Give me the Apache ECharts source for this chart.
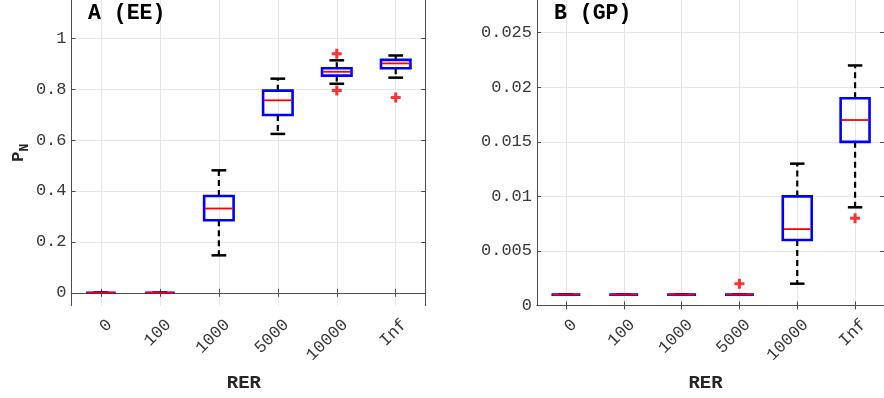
<!DOCTYPE html>
<html>
<head>
<meta charset="utf-8">
<script src="https://cdn.jsdelivr.net/npm/echarts@6/dist/echarts.min.js"></script>
<style>
  html, body { margin: 0; padding: 0; background: #fff; }
  #chart { width: 884px; height: 398px; }
</style>
</head>
<body>
<div id="chart"></div>
<script>
// RER settings shared by both panels
const categories = ['0', '100', '1000', '5000', '10000', 'Inf'];

// Panel A (EE): box statistics per RER
const eeLower  = [0, 0, 0.147, 0.624, 0.821, 0.845];
const eeQ1     = [0, 0, 0.285, 0.698, 0.853, 0.882];
const eeMedian = [0, 0, 0.331, 0.756, 0.868, 0.901];
const eeQ3     = [0, 0, 0.380, 0.794, 0.882, 0.915];
const eeUpper  = [0, 0, 0.481, 0.841, 0.913, 0.932];
const eeOutliers = [['10000', 0.939], ['10000', 0.795], ['Inf', 0.767]];
const eeTicks = [0, 0.2, 0.4, 0.6, 0.8, 1];

// Panel B (GP): box statistics per RER
const gpLower  = [0.001, 0.001, 0.001, 0.001, 0.002, 0.009];
const gpQ1     = [0.001, 0.001, 0.001, 0.001, 0.006, 0.015];
const gpMedian = [0.001, 0.001, 0.001, 0.001, 0.007, 0.017];
const gpQ3     = [0.001, 0.001, 0.001, 0.001, 0.010, 0.019];
const gpUpper  = [0.001, 0.001, 0.001, 0.001, 0.013, 0.022];
const gpOutliers = [['5000', 0.002], ['Inf', 0.008]];
const gpTicks = [0, 0.005, 0.01, 0.015, 0.02, 0.025];

const MONO = 'Liberation Mono, Courier New, monospace';
const AXIS_COLOR = '#4d4d4d';
const GRID_COLOR = '#e6e6e6';
const LABEL_COLOR = '#383838';
const PLUS = 'path://M3.5,0h3v3.5h3.5v3h-3.5v3.5h-3v-3.5h-3.5v-3h3.5z';

function boxRows(lo, q1, md, q3, hi) {
  return categories.map((c, i) => [i, lo[i], q1[i], md[i], q3[i], hi[i]]);
}

// whiskers, caps, box and median for one category
function renderBox(params, api) {
  const x = api.value(0);
  const bw = api.size([1, 0])[0] * 0.5;
  const lo = api.coord([x, api.value(1)]);
  const q1 = api.coord([x, api.value(2)]);
  const md = api.coord([x, api.value(3)]);
  const q3 = api.coord([x, api.value(4)]);
  const hi = api.coord([x, api.value(5)]);
  const cx = md[0];
  const dash = { stroke: '#000', lineWidth: 2.2, lineDash: [6, 4] };
  const cap = { stroke: '#000', lineWidth: 2.5 };
  return {
    type: 'group',
    children: [
      { type: 'line', shape: { x1: cx, y1: q3[1], x2: cx, y2: hi[1] }, style: dash },
      { type: 'line', shape: { x1: cx, y1: q1[1], x2: cx, y2: lo[1] }, style: dash },
      { type: 'line', shape: { x1: cx - bw / 4, y1: hi[1], x2: cx + bw / 4, y2: hi[1] }, style: cap },
      { type: 'line', shape: { x1: cx - bw / 4, y1: lo[1], x2: cx + bw / 4, y2: lo[1] }, style: cap },
      { type: 'rect', shape: { x: cx - bw / 2, y: q3[1], width: bw, height: q1[1] - q3[1] },
        style: { fill: 'none', stroke: '#0000ff', lineWidth: 2.6 } },
      { type: 'line', shape: { x1: cx - bw / 2 + 1, y1: md[1], x2: cx + bw / 2 - 1, y2: md[1] },
        style: { stroke: '#ff0000', lineWidth: 1.8 } }
    ]
  };
}

function xAxes(gridIndex, namePad) {
  return [
    {
      type: 'category', gridIndex, data: categories, position: 'bottom',
      boundaryGap: true,
      axisLine: { show: true, lineStyle: { color: AXIS_COLOR, width: 1 } },
      axisTick: { show: true, inside: true, length: 4, alignWithLabel: true, lineStyle: { color: AXIS_COLOR } },
      splitLine: { show: true, alignWithLabel: true, lineStyle: { color: GRID_COLOR, width: 1 } },
      axisLabel: {
        rotate: 45, margin: 8, align: 'right', verticalAlign: 'top', lineHeight: 24,
        fontFamily: MONO, fontSize: 17, color: LABEL_COLOR, interval: 0
      },
      name: 'RER', nameLocation: 'middle', nameGap: 67,
      nameTextStyle: { fontFamily: MONO, fontWeight: 'bold', fontSize: 19, color: '#262626',
        padding: [0, namePad, 0, 0] }
    },
    {
      type: 'category', gridIndex, data: categories, position: 'top',
      boundaryGap: true,
      axisLine: { show: true, lineStyle: { color: AXIS_COLOR, width: 1 } },
      axisTick: { show: true, inside: true, length: 4, alignWithLabel: true, lineStyle: { color: AXIS_COLOR } },
      axisLabel: { show: false }, splitLine: { show: false }
    }
  ];
}

function yAxes(gridIndex, min, max, ticks, extra) {
  const base = {
    type: 'value', gridIndex, min, max,
    axisLine: { show: true, lineStyle: { color: AXIS_COLOR, width: 1 } },
    axisTick: { show: true, inside: true, length: 4, customValues: ticks, lineStyle: { color: AXIS_COLOR } }
  };
  return [
    Object.assign({}, base, {
      position: 'left',
      splitLine: { show: true, lineStyle: { color: GRID_COLOR, width: 1 } },
      axisLabel: { customValues: ticks, margin: 5, fontFamily: MONO, fontSize: 17, color: LABEL_COLOR }
    }, extra || {}),
    Object.assign({}, base, {
      position: 'right',
      splitLine: { show: false },
      axisLabel: { show: false }
    })
  ];
}

const chart = echarts.init(document.getElementById('chart'), null, { renderer: 'canvas' });

chart.setOption({
  animation: false,
  backgroundColor: '#ffffff',
  title: [
    { text: 'A (EE)', left: 88, top: 3, padding: 0,
      textStyle: { fontFamily: MONO, fontWeight: 'bold', fontSize: 21.5, color: '#000' } },
    { text: 'B (GP)', left: 554, top: 3, padding: 0,
      textStyle: { fontFamily: MONO, fontWeight: 'bold', fontSize: 21.5, color: '#000' } }
  ],
  grid: [
    { left: 71.5, top: -0.5, width: 353.7, height: 306 },
    { left: 537, top: -0.5, width: 356, height: 306 }
  ],
  xAxis: [].concat(xAxes(0, 9), xAxes(1, 10)),
  yAxis: [].concat(
    yAxes(0, -0.05, 1.15, eeTicks, {
      name: '{p|P}{n|N}', nameLocation: 'middle', nameGap: 44, nameRotate: 90,
      nameTextStyle: {
        rich: {
          p: { fontFamily: MONO, fontWeight: 'bold', fontSize: 17, color: '#262626', lineHeight: 17, verticalAlign: 'top' },
          n: { fontFamily: MONO, fontWeight: 'bold', fontSize: 13, color: '#262626', lineHeight: 12, padding: [12, 0, 0, 0] }
        }
      }
    }),
    yAxes(1, 0, 0.028, gpTicks)
  ),
  series: [
    { type: 'custom', xAxisIndex: 0, yAxisIndex: 0, renderItem: renderBox,
      data: boxRows(eeLower, eeQ1, eeMedian, eeQ3, eeUpper), z: 3 },
    { type: 'scatter', xAxisIndex: 0, yAxisIndex: 0, data: eeOutliers,
      symbol: PLUS, symbolSize: 10, itemStyle: { color: '#ff0000' }, z: 4 },
    { type: 'custom', xAxisIndex: 2, yAxisIndex: 2, renderItem: renderBox,
      data: boxRows(gpLower, gpQ1, gpMedian, gpQ3, gpUpper), z: 3 },
    { type: 'scatter', xAxisIndex: 2, yAxisIndex: 2, data: gpOutliers,
      symbol: PLUS, symbolSize: 10, itemStyle: { color: '#ff0000' }, z: 4 }
  ]
});
</script>
</body>
</html>
